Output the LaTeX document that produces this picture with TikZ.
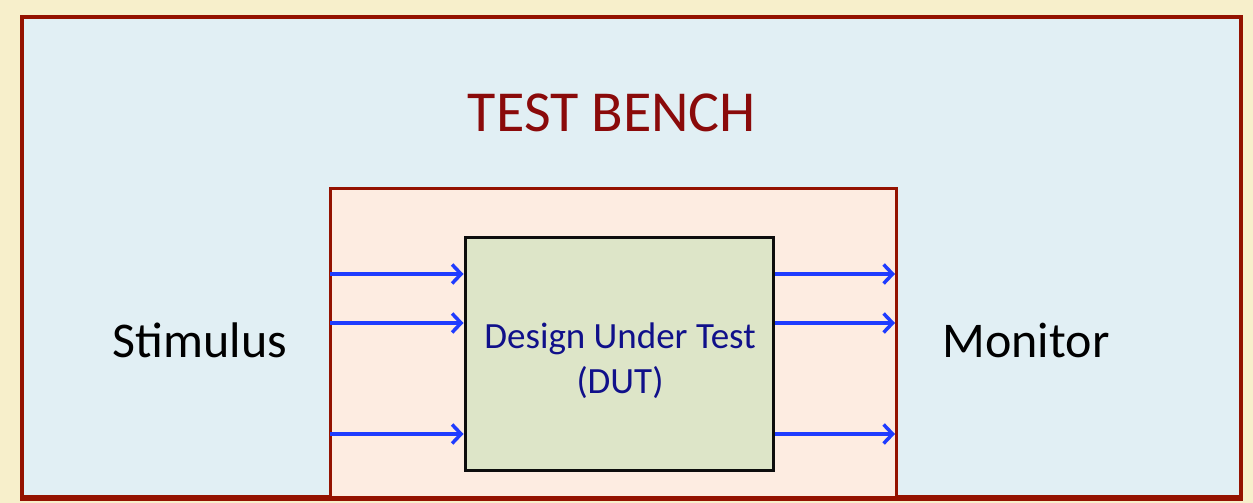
\documentclass[tikz,border=0pt]{standalone}
\usepackage{fontspec}
\setmainfont{Carlito}
\usetikzlibrary{arrows.meta,positioning}

\definecolor{paper}{HTML}{F7EFCB}
\definecolor{benchfill}{HTML}{E1EFF4}
\definecolor{benchred}{HTML}{941200}
\definecolor{titlered}{HTML}{8A0A0A}
\definecolor{wrapfill}{HTML}{FDECE1}
\definecolor{dutfill}{HTML}{DDE5C8}
\definecolor{sigblue}{HTML}{1F3CFF}
\definecolor{dutblue}{HTML}{10108A}

\begin{document}
\begin{tikzpicture}[x=1pt,y=-1pt]

\tikzstyle{benchbox} = [rectangle,draw=benchred,fill=benchfill,line width=4pt,inner sep=0]%
\tikzstyle{wrapbox} = [rectangle,draw=benchred,fill=wrapfill,line width=3pt,inner sep=0]%
\tikzstyle{dutbox} = [rectangle,draw=black!95,fill=dutfill,line width=3pt,inner sep=0]%
\tikzstyle{side} = [font=\fontsize{50}{60}\selectfont,text=black]%
\tikzstyle{sig} = [-{Straight Barb[length=9pt,width=19pt,line width=3.5pt]},draw=sigblue,line width=3.5pt]%

\fill[paper] (0,0) rectangle (1253,503);
\useasboundingbox (0,0) rectangle (1253,503);

\node[benchbox,minimum width=1219pt,minimum height=480pt] (bench) at (631.5,257) {};
\node[wrapbox,minimum width=566pt,minimum height=309pt] (wrap) at (613,342.5) {};
% redraw outer bottom edge over the inner box
\draw[benchred,line width=4pt] (bench.south west) -- (bench.south east);

\node[dutbox,minimum width=308pt,minimum height=233pt] (dut) at (619,354) {};
\node[text=dutblue,font=\fontsize{37}{45}\selectfont,align=center] (dutlabel) at (620,361) {Design Under Test\\(DUT)};

\node[text=titlered,font=\fontsize{58}{70}\selectfont] (title) at (612,113) {TEST BENCH};
\node[side] (stim) at (200,340) {Stimulus};
\node[side] (mon) at (1026,340) {Monitor};

\coordinate (in1) at (330,274);
\coordinate (in2) at (330,323);
\coordinate (in3) at (330,434);
\coordinate (out1) at (895,274);
\coordinate (out2) at (895,323);
\coordinate (out3) at (895,434);

\foreach \i in {1,2,3} {
  \draw[sig] (in\i) -- (dut.west |- in\i);
  \draw[sig] (dut.east |- out\i) -- (out\i);
}

\end{tikzpicture}
\end{document}
